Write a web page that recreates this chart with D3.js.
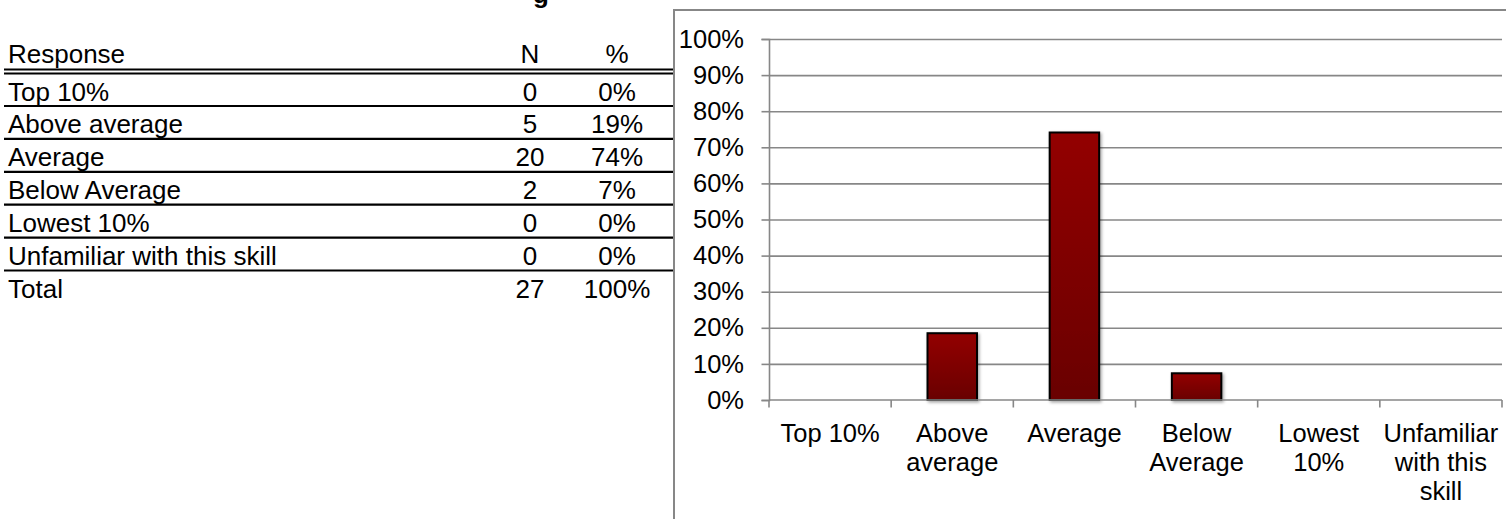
<!DOCTYPE html>
<html><head><meta charset="utf-8">
<script src="https://cdn.jsdelivr.net/npm/d3@7"></script>
<style>
html,body{margin:0;padding:0;background:#fff;overflow:hidden;}
svg{display:block;font-family:"Liberation Sans",Arial,sans-serif;}
</style>
</head><body>
<svg id="chart" width="1506" height="519"></svg>
<script>
// ---- data ----
const categories = ["Top 10%", "Above average", "Average", "Below Average", "Lowest 10%", "Unfamiliar with this skill"];
const counts = [0, 5, 20, 2, 0, 0];
const percentValues = [0, 18.5, 74.1, 7.4, 0, 0];
const percentLabels = ["0%", "19%", "74%", "7%", "0%", "0%"];
const tableHeader = ["Response", "N", "%"];
const totalRow = ["Total", "27", "100%"];
const yTickValues = [0, 10, 20, 30, 40, 50, 60, 70, 80, 90, 100];
const titleFragment = "g";

const svg = d3.select("#chart");

// ---- clipped title fragment ----
svg.append("text").attr("x", 541).attr("y", 2.5)
  .attr("text-anchor", "middle").attr("font-weight", "bold")
  .attr("font-size", 26).text(titleFragment);

// ---- table ----
const tbl = svg.append("g");
const tLeft = 4, tRight = 673, colN = 530, colP = 617, textX = 8;
const rowStep = 32.9, firstLine = 106;
const fs = 26;
tbl.append("text").attr("x", textX).attr("y", 63.3).attr("font-size", fs).text(tableHeader[0]);
tbl.append("text").attr("x", colN).attr("y", 63.3).attr("font-size", fs).attr("text-anchor", "middle").text(tableHeader[1]);
tbl.append("text").attr("x", colP).attr("y", 63.3).attr("font-size", fs).attr("text-anchor", "middle").text(tableHeader[2]);
[69.5, 73.5].forEach(y => tbl.append("line").attr("x1", tLeft).attr("x2", tRight)
  .attr("y1", y).attr("y2", y).attr("stroke", "#000").attr("stroke-width", 2.2));

const rows = categories.map((c, i) => [c, String(counts[i]), percentLabels[i]]).concat([totalRow]);
rows.forEach((r, i) => {
  const lineY = firstLine + i * rowStep;
  const base = lineY - 5.5;
  tbl.append("text").attr("x", textX).attr("y", base).attr("font-size", fs).text(r[0]);
  tbl.append("text").attr("x", colN).attr("y", base).attr("font-size", fs).attr("text-anchor", "middle").text(r[1]);
  tbl.append("text").attr("x", colP).attr("y", base).attr("font-size", fs).attr("text-anchor", "middle").text(r[2]);
  if (i < rows.length - 1) {
    tbl.append("line").attr("x1", tLeft).attr("x2", tRight)
      .attr("y1", lineY).attr("y2", lineY).attr("stroke", "#000").attr("stroke-width", 2.2);
  }
});

// ---- chart frame ----
svg.append("rect").attr("x", 674).attr("y", 10).attr("width", 900).attr("height", 600)
  .attr("fill", "none").attr("stroke", "#878787").attr("stroke-width", 2);

// ---- scales ----
const x = d3.scaleBand().domain(categories).range([769, 1502]).padding(0);
const y = d3.scaleLinear().domain([0, 100]).range([400, 39]);
const gridColor = "#878787";

// gridlines
svg.append("g").attr("transform", "translate(769,0)")
  .call(d3.axisLeft(y).tickValues(yTickValues.filter(d => d > 0)).tickSize(-(x.range()[1] - 769)).tickFormat(""))
  .call(g => g.select(".domain").remove())
  .call(g => g.selectAll("line").attr("stroke", gridColor).attr("stroke-width", 1.6));

// defs: gradient + shadow
const defs = svg.append("defs");
const grad = defs.append("linearGradient").attr("id", "barGrad").attr("x1", 0).attr("y1", 0).attr("x2", 0).attr("y2", 1);
grad.append("stop").attr("offset", "0%").attr("stop-color", "#930000");
grad.append("stop").attr("offset", "100%").attr("stop-color", "#690000");
const f = defs.append("filter").attr("id", "shadow").attr("x", "-20%").attr("y", "-20%").attr("width", "150%").attr("height", "150%");
f.append("feDropShadow").attr("dx", 1.5).attr("dy", 1.5).attr("stdDeviation", 1.6)
  .attr("flood-color", "#000").attr("flood-opacity", 0.35);

// bars
const barW = x.bandwidth() * 0.405;
svg.append("g").selectAll("rect").data(categories.map((c, i) => ({c, v: percentValues[i]})).filter(d => d.v > 0))
  .join("rect")
  .attr("x", d => x(d.c) + (x.bandwidth() - barW) / 2)
  .attr("y", d => y(d.v))
  .attr("width", barW)
  .attr("height", d => y(0) - y(d.v))
  .attr("fill", "url(#barGrad)")
  .attr("stroke", "#000").attr("stroke-width", 2)
  .attr("filter", "url(#shadow)");

// y axis
svg.append("g").attr("transform", "translate(769,0)")
  .call(d3.axisLeft(y).tickValues(yTickValues).tickFormat(d => d + "%").tickSize(7.5).tickPadding(17.5))
  .call(g => g.select(".domain").attr("stroke", gridColor).attr("stroke-width", 1.6))
  .call(g => g.selectAll(".tick line").attr("stroke", gridColor).attr("stroke-width", 1.6))
  .call(g => g.selectAll(".tick text").attr("font-size", 25.5).attr("fill", "#000")
    .attr("font-family", "'Liberation Sans',Arial,sans-serif"));

// x axis line + boundary ticks
const xAxisG = svg.append("g").attr("transform", "translate(0,400)");
xAxisG.append("line").attr("x1", 769).attr("x2", x.range()[1]).attr("y1", 0).attr("y2", 0)
  .attr("stroke", gridColor).attr("stroke-width", 1.6);
const bounds = categories.map(c => x(c)).concat([x.range()[1]]);
xAxisG.selectAll("line.tk").data(bounds).join("line").attr("class", "tk")
  .attr("x1", d => d).attr("x2", d => d).attr("y1", 0).attr("y2", 7.5)
  .attr("stroke", gridColor).attr("stroke-width", 1.6);

// x labels with wrapping
const labelG = svg.append("g");
const lblFs = 25.5, lineH = 29.3, firstBase = 441.7;
categories.forEach(c => {
  const t = labelG.append("text").attr("text-anchor", "middle").attr("font-size", lblFs)
    .attr("x", x(c) + x.bandwidth() / 2).attr("y", firstBase);
  const words = c.split(" ");
  let lines = [], cur = [];
  const probe = svg.append("text").attr("font-size", lblFs).attr("visibility", "hidden");
  words.forEach(w => {
    const trial = cur.concat([w]).join(" ");
    probe.text(trial);
    if (cur.length && probe.node().getComputedTextLength() > x.bandwidth() - 2) {
      lines.push(cur.join(" ")); cur = [w];
    } else cur.push(w);
  });
  lines.push(cur.join(" "));
  probe.remove();
  lines.forEach((ln, i) => t.append("tspan").attr("x", x(c) + x.bandwidth() / 2)
    .attr("y", firstBase + i * lineH).text(ln));
});
</script>
</body></html>
